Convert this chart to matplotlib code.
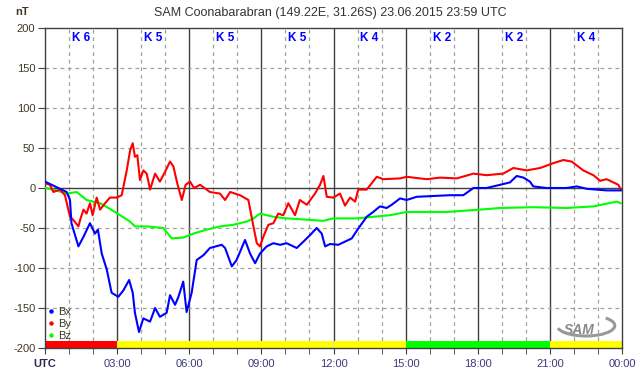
import matplotlib
matplotlib.use("Agg")
import matplotlib.pyplot as plt
from matplotlib.lines import Line2D
from matplotlib.patches import Arc

plt.rcParams['font.family'] = ['Liberation Sans', 'DejaVu Sans']

# time in hours UTC, field in nT
bx_t = [0, 0.9, 1.04, 1.1, 1.39, 1.6, 1.87, 2.08, 2.2, 2.36, 2.57, 2.77, 3.05, 3.26, 3.5, 3.65,
        3.74, 3.91, 4.09, 4.37, 4.58, 4.78, 5.06, 5.2, 5.41, 5.55, 5.75, 5.89, 6.1, 6.31, 6.59,
        6.86, 7.35, 7.49, 7.77, 7.97, 8.32, 8.53, 8.74, 8.94, 9.22, 9.5, 9.78, 10.05, 10.47,
        10.75, 11.02, 11.3, 11.51, 11.65, 11.86, 12.2, 12.76, 13.0, 13.38, 13.65, 13.93, 14.21,
        14.42, 14.77, 15.04, 15.46, 16.15, 16.85, 17.4, 17.82, 18.37, 18.93, 19.34, 19.62, 19.9,
        20.17, 20.31, 20.87, 21.7, 22.12, 22.53, 23.36, 23.95]
bx = [8, -5, -15, -44, -73, -61, -44, -57, -52, -82, -102, -131, -136, -128, -115, -131,
      -156, -180, -163, -167, -150, -161, -156, -134, -146, -136, -117, -155, -131, -90, -84,
      -75, -71, -75, -98, -90, -65, -82, -94, -82, -73, -69, -71, -69, -75,
      -67, -59, -50, -57, -73, -70, -71, -63, -52, -36, -30, -23, -25,
      -21, -13, -15, -11, -10, -9, -9, 0, 0, 4, 7, 15, 13,
      8, 2, 0, 0, 2, -1, -3, -3]

by_t = [0, 0.2, 0.35, 0.62, 0.83, 1.04, 1.18, 1.39, 1.46, 1.6, 1.73, 1.87, 1.98, 2.15, 2.29,
        2.5, 2.7, 2.98, 3.19, 3.4, 3.54, 3.65, 3.74, 3.84, 3.95, 4.09, 4.23, 4.37, 4.58, 4.78,
        4.99, 5.2, 5.34, 5.5, 5.69, 5.85, 6.03, 6.2, 6.45, 6.86, 7.28, 7.49, 7.7, 8.11, 8.46,
        8.67, 8.81, 8.94, 9.08, 9.29, 9.5, 9.7, 9.91, 10.12, 10.4, 10.6, 10.89, 11.23, 11.44,
        11.58, 11.72, 11.99, 12.27, 12.48, 12.69, 12.9, 13.03, 13.38, 13.59, 13.8, 14.07, 14.77,
        15.04, 15.88, 16.43, 17.13, 17.82, 18.37, 19.06, 19.48, 20.04, 20.59, 21.14, 21.56,
        21.91, 22.39, 22.81, 23.09, 23.36, 23.64, 23.85, 23.95]
by = [6, 4, -5, -2, -9, -36, -40, -48, -40, -27, -32, -19, -34, -12, -27,
      -19, -12, -12, -9, 22, 47, 56, 39, 41, 10, 22, 18, -2, 18, 8,
      20, 33, 27, 6, -15, 4, 8, 0, 4, -5, -7, -15, -5, -9, -15,
      -48, -69, -73, -61, -46, -44, -32, -34, -19, -34, -15, -21, -7, 4,
      15, -11, -12, -7, -22, -12, -17, -2, -2, 6, 14, 11, 12,
      14, 11, 13, 12, 18, 16, 18, 25, 22, 25, 31, 35,
      33, 22, 16, 9, 11, 7, 4, -2]

bz_t = [0, 0.35, 0.9, 1.32, 1.73, 2.29, 2.7, 3.12, 3.54, 3.74, 4.23, 4.92, 5.27, 5.75, 6.17,
        6.73, 7.28, 7.83, 8.39, 8.67, 8.94, 9.5, 10.05, 10.61, 11.58, 11.99, 12.96, 13.66,
        14.35, 15.04, 16.7, 18.1, 18.93, 20.31, 21.7, 22.81, 23.78, 23.95]
bz = [0, -2, -7, -5, -15, -19, -26, -34, -42, -48, -48, -50, -63, -62, -57,
      -52, -48, -46, -42, -38, -32, -36, -38, -39, -41, -38, -38, -36,
      -34, -30, -30, -27, -25, -24, -25, -23, -17, -19]

k_start = [0, 3, 6, 9, 12, 15, 18, 21]
k_index = [6, 5, 5, 5, 4, 2, 2, 4]
k_colors = ['#ff0000', '#ffff00', '#ffff00', '#ffff00', '#ffff00', '#00ff00', '#00ff00', '#ffff00']

xtick_pos = [0, 3, 6, 9, 12, 15, 18, 21, 24]
xtick_lab = ['UTC', '03:00', '06:00', '09:00', '12:00', '15:00', '18:00', '21:00', '00:00']
ytick_pos = [200, 150, 100, 50, 0, -50, -100, -150, -200]

fig = plt.figure(figsize=(6.42, 3.76), dpi=100)
ax = fig.add_axes([45 / 642, 28 / 376, 577 / 642, 320 / 376])
ax.set_xlim(0, 24)
ax.set_ylim(-200, 200)

# grid
for h in range(1, 24):
    if h % 3 == 0:
        ax.axvline(h, color='#404040', lw=1, zorder=1)
    else:
        ax.axvline(h, color='#a0a0a0', lw=0.9, ls=(0, (3, 3)), zorder=1)
for v in ytick_pos[1:-1]:
    if v == 0:
        ax.axhline(v, color='#404040', lw=1, zorder=1)
    else:
        ax.axhline(v, color='#a0a0a0', lw=0.9, ls=(0, (3, 3)), zorder=1)

# K index bar at the bottom
ax.bar(k_start, 8.75, width=3, bottom=-200, align='edge', color=k_colors, lw=0, zorder=2)

ax.plot(bz_t, bz, color='#00ff00', lw=1.5, zorder=3)
ax.plot(by_t, by, color='#ff0000', lw=1.5, zorder=4)
ax.plot(bx_t, bx, color='#0000ff', lw=1.5, zorder=5)

for s, k in zip(k_start, k_index):
    ax.text(s + 1.5, 187, 'K ' + str(k), color='#0000ff', fontsize=8.5, fontweight='bold',
            ha='center', va='center', zorder=6)

# ticks and labels
ax.set_xticks(xtick_pos)
ax.set_xticklabels(xtick_lab, fontsize=8, color='#3a3a7a')
ax.get_xticklabels()[0].set_fontweight('bold')
ax.get_xticklabels()[0].set_color('#2a2a50')
ax.set_xticks(range(25), minor=True)
ax.set_yticks(ytick_pos)
ax.set_yticklabels([str(v) for v in ytick_pos], fontsize=8, color='#403828')
ax.tick_params(axis='x', which='both', direction='out', length=4, color='#404040', pad=4)
ax.tick_params(axis='y', direction='out', length=5, color='#404040', pad=2)
for sp in ax.spines.values():
    sp.set_color('#404040')
    sp.set_linewidth(1)

fig.text(22 / 642, 1 - 12 / 376, 'nT', fontsize=8, fontweight='bold', color='#403828',
         ha='center', va='center')
fig.text(0.515, 1 - 13 / 376, 'SAM Coonabarabran (149.22E, 31.26S) 23.06.2015 23:59 UTC',
         fontsize=9, color='#333333', ha='center', va='center')

# legend
handles = [Line2D([], [], ls='none', marker='o', ms=2.2, color=c) for c in ['#0000ff', '#ff0000', '#00ff00']]
ax.legend(handles, ['Bx', 'By', 'Bz'], loc='lower left', bbox_to_anchor=(-0.012, -0.01),
          frameon=False, fontsize=8, handlelength=0.6, handletextpad=0.3, labelspacing=0.2,
          labelcolor='#403828')

# SAM logo
ax.text(22.2, -178, 'SAM', fontsize=10, style='italic', fontweight='bold', color='#8a8a8a',
        ha='center', va='center', zorder=6)
ax.add_patch(Arc((22.5, -172), 2.4, 26, theta1=-110, theta2=85, color='#999999', lw=2.2, zorder=6))

fig.savefig('out.png', dpi=100)
